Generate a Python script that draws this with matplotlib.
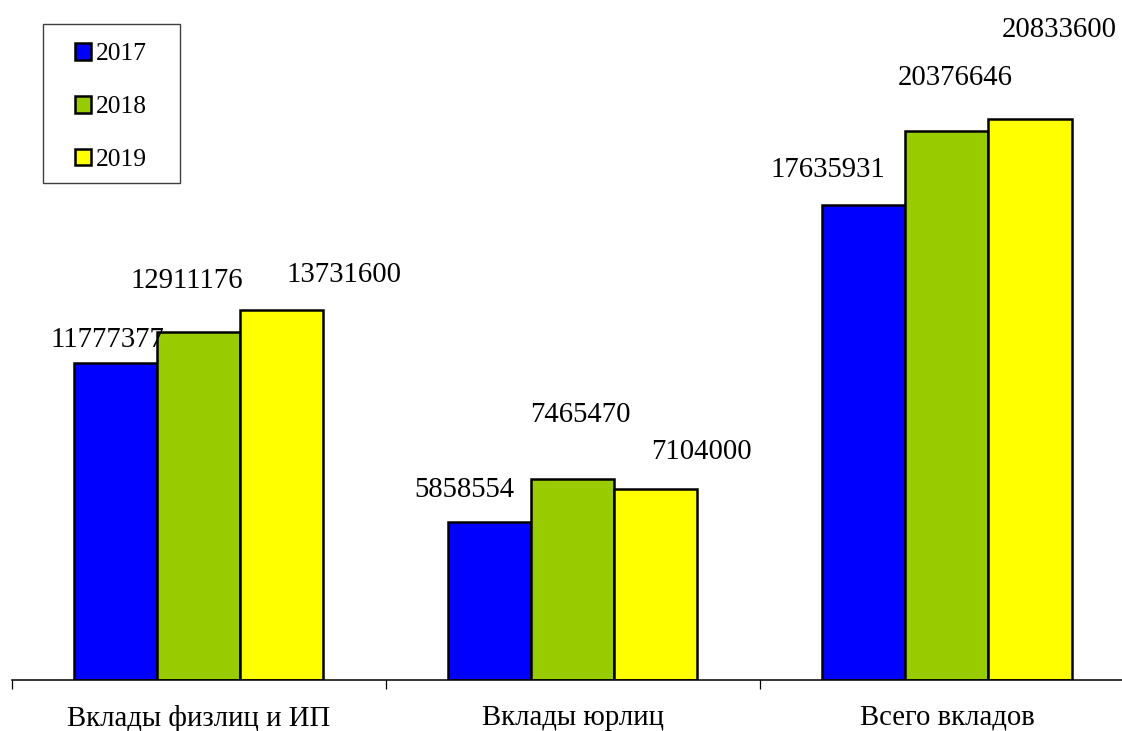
import numpy as np
import matplotlib.pyplot as plt
from matplotlib.patches import Rectangle

categories = ['Вклады физлиц и ИП', 'Вклады юрлиц', 'Всего вкладов']
years = ['2017', '2018', '2019']
v2017 = [11777377, 5858554, 17635931]
v2018 = [12911176, 7465470, 20376646]
v2019 = [13731600, 7104000, 20833600]

colors = ['#0000FF', '#99CC00', '#FFFF00']
# label offsets (pixels) from the top centre of each bar, Excel-like placement
label_dx = [[-8, -25, -36], [-12, 8, 8], [62, 46, 29]]
label_dy = [[16, 25, 28], [44, 57, 46], [28, 30, 82]]

plt.rcParams['font.family'] = ['Liberation Serif', 'DejaVu Serif']

W, H = 1122, 731
fig = plt.figure(figsize=(W / 100, H / 100), dpi=100)
ax_left, ax_right, ax_bottom = 11.5, 1134.0, 680.0
px_per_unit = 26.95e-6
ymax = 25e6
ax_h = ymax * px_per_unit
ax = fig.add_axes([ax_left / W, (H - ax_bottom) / H, (ax_right - ax_left) / W, ax_h / H])

x = np.arange(len(categories))
w = 0.2222
series = [v2017, v2018, v2019]
for i, (vals, yr) in enumerate(zip(series, years)):
    pos = x + (i - 1) * w
    ax.bar(pos, vals, width=w, color=colors[i], edgecolor='black', linewidth=1.8, label=yr, zorder=2)
    for j, v in enumerate(vals):
        ax.annotate(str(v), (pos[j], v), xytext=(label_dx[i][j], label_dy[i][j]),
                    textcoords='offset pixels', ha='center', va='baseline', fontsize=20.7)

ax.set_xlim(-0.5, 2.5)
ax.set_ylim(0, ymax)
for s in ['left', 'right', 'top']:
    ax.spines[s].set_visible(False)
ax.spines['bottom'].set_linewidth(1.1)
ax.set_yticks([])
ax.set_xticks(x)
ax.set_xticklabels(categories, fontsize=20.7)
ax.tick_params(axis='x', which='major', length=0, pad=18)
ax.set_xticks([-0.5, 0.5, 1.5, 2.5], minor=True)
ax.tick_params(axis='x', which='minor', length=6.5, width=0.9, direction='out')

leg = fig.legend(loc='upper left', bbox_to_anchor=(75 / W, 1 - 43 / H), frameon=False,
                 fontsize=18.4, handlelength=0.62, handleheight=0.62, handletextpad=0.2,
                 labelspacing=1.2, borderpad=0, borderaxespad=0)
for h in leg.legend_handles:
    h.set_linewidth(1.8)
fig.patches.append(Rectangle((43 / W, 1 - 183 / H), 137 / W, 159 / H, transform=fig.transFigure,
                             fill=False, edgecolor='#404040', linewidth=1.0))

fig.savefig('out.png', dpi=100)
